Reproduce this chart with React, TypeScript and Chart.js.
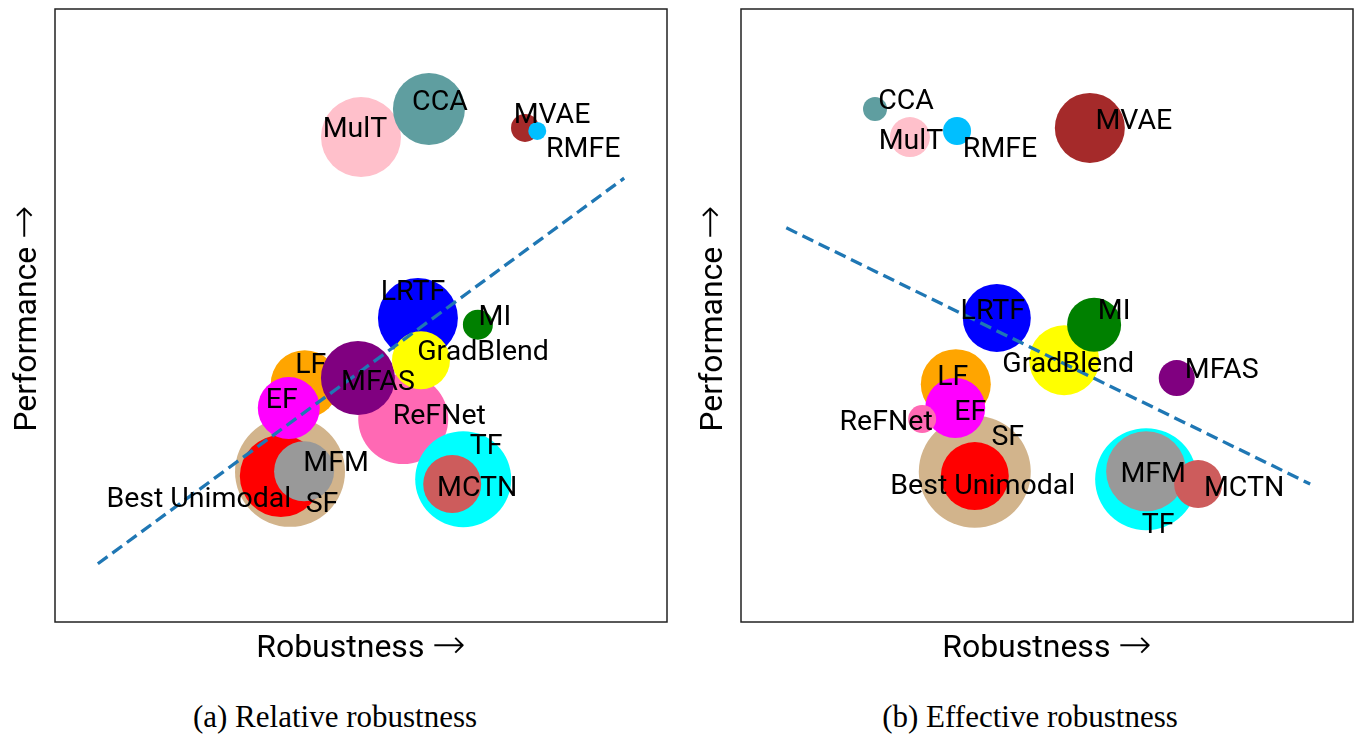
import React, { useEffect, useRef } from "react";
import { Chart, registerables } from "chart.js";

Chart.register(...registerables);

// ---- data (drawing order: later items are drawn on top) ----
const methods = [
  "SF", "Best Unimodal", "LF", "EF", "ReFNet", "MFAS", "LRTF", "GradBlend",
  "MI", "TF", "MFM", "MCTN", "MulT", "CCA", "MVAE", "RMFE",
];
const colors = [
  "#D2B48C", "#FF0000", "#FFA500", "#FF00FF", "#FF69B4", "#800080", "#0000FF", "#FFFF00",
  "#008000", "#00FFFF", "#999999", "#CD5C5C", "#FFC0CB", "#5F9EA0", "#A52A2A", "#00BFFF",
];
const performance = [24.5, 23.8, 38.8, 34.9, 33.1, 39.8, 49.6, 42.7, 48.5, 23.3, 24.6, 22.5, 79.1, 83.7, 80.6, 80.1];

const relativeRobustness = [38.4, 36.9, 40.8, 38.2, 56.9, 49.5, 59.3, 59.8, 69.1, 66.7, 40.7, 64.9, 50.0, 61.1, 76.8, 78.8];
const relativeSize = [55, 41, 34, 31, 45, 37, 40, 29, 15, 48, 30, 29, 40, 36, 14, 9];

const effectiveRobustness = [38.2, 38.2, 35.1, 35.0, 29.6, 71.2, 41.8, 52.8, 57.7, 66.2, 66.2, 74.7, 27.6, 21.9, 57.0, 35.3];
const effectiveSize = [56, 34, 35, 30, 14, 18, 34, 35, 27, 51, 40, 24, 20, 12, 35, 14];

const relativeTrendX = [7.0, 93.0];
const relativeTrendY = [9.5, 72.4];
const effectiveTrendX = [7.4, 93.0];
const effectiveTrendY = [64.3, 22.5];

// label placement relative to each bubble (px)
const relativeLabelOffsets = [
  [32, 40], [-82, 31], [6, -11], [-7, 0], [36, 5], [20, 12], [-5, -18], [62, 0],
  [17, 0], [23, -25], [32, 0], [25, 12], [-6, 0], [11, 1], [27, -5], [46, 26],
];
const effectiveLabelOffsets = [
  [33, -27], [8, 18], [-3, 1], [15, 12], [-36, 11], [45, 0], [-4, 1], [4, 12],
  [20, -6], [12, 54], [7, 11], [46, 12], [1, 12], [31, 0], [44, 1], [43, 26],
];

const xTitle = "Robustness →";
const yTitle = "Performance →";
const captions = ["(a) Relative robustness", "(b) Effective robustness"];

const LABEL_FONT = "28.5px Roboto";
const TITLE_FONT = "32px Roboto";
const ARROW_FONT = "200 40px 'DejaVu Sans'";
const CANVAS_H = 666;

const framePlugin = {
  id: "frame",
  beforeDatasetsDraw(chart: any) {
    const { ctx, chartArea } = chart;
    ctx.save();
    ctx.strokeStyle = "#222";
    ctx.lineWidth = 1.5;
    ctx.strokeRect(chartArea.left, chartArea.top, chartArea.right - chartArea.left, chartArea.bottom - chartArea.top);
    ctx.restore();
  },
};

// draws "word →" with the arrow in a font with a long, thin arrow glyph
function drawTitle(ctx: CanvasRenderingContext2D, text: string, cx: number, baseline: number) {
  const word = text.slice(0, -1);
  const arrow = text.slice(-1);
  ctx.font = TITLE_FONT;
  const w1 = ctx.measureText(word).width;
  ctx.font = ARROW_FONT;
  const w2 = ctx.measureText(arrow).width;
  const x0 = cx - (w1 + w2) / 2;
  ctx.textAlign = "left";
  ctx.textBaseline = "alphabetic";
  ctx.font = TITLE_FONT;
  ctx.fillText(word, x0, baseline);
  ctx.font = ARROW_FONT;
  ctx.fillText(arrow, x0 + w1, baseline + 1);
}

const axisTitlePlugin = {
  id: "axisTitles",
  afterDraw(chart: any) {
    const { ctx, chartArea } = chart;
    ctx.save();
    ctx.fillStyle = "#000";
    drawTitle(ctx, xTitle, (chartArea.left + chartArea.right) / 2, chartArea.bottom + 35);
    ctx.translate(chartArea.left - 19, (chartArea.top + chartArea.bottom) / 2 + 3);
    ctx.rotate(-Math.PI / 2);
    drawTitle(ctx, yTitle, 0, 0);
    ctx.restore();
  },
};

function makeLabelPlugin(offsets: number[][]) {
  return {
    id: "bubbleLabels",
    afterDatasetsDraw(chart: any) {
      const meta = chart.getDatasetMeta(1);
      const ctx = chart.ctx;
      ctx.save();
      ctx.font = LABEL_FONT;
      ctx.fillStyle = "#000";
      ctx.textAlign = "center";
      ctx.textBaseline = "alphabetic";
      meta.data.forEach((el: any, i: number) => {
        const [dx, dy] = offsets[i];
        ctx.fillText(methods[i], el.x + dx, el.y + dy);
      });
      ctx.restore();
    },
  };
}

type PanelProps = {
  robustness: number[];
  sizes: number[];
  trendX: number[];
  trendY: number[];
  offsets: number[][];
  width: number;
  left: number;
  padRight: number;
};

function Panel({ robustness, sizes, trendX, trendY, offsets, width, left, padRight }: PanelProps) {
  const ref = useRef<HTMLCanvasElement | null>(null);
  useEffect(() => {
    if (!ref.current) return;
    Chart.defaults.font.family = "Roboto";
    const hiddenAxis = {
      type: "linear",
      min: 0,
      max: 100,
      grid: { display: false, drawTicks: false },
      border: { display: false },
      ticks: { display: false },
      title: { display: false },
    };
    const chart = new Chart(ref.current, {
      type: "bubble",
      data: {
        datasets: [
          {
            type: "line",
            data: trendX.map((x, i) => ({ x, y: trendY[i] })),
            borderColor: "#1f77b4",
            borderWidth: 3.3,
            borderDash: [12, 6],
            pointRadius: 0,
            fill: false,
            order: 0,
          } as any,
          {
            type: "bubble",
            data: methods.map((_, i) => ({ x: robustness[i], y: performance[i], r: sizes[i] })),
            backgroundColor: colors,
            borderWidth: 0,
            hoverRadius: 0,
            order: 1,
          } as any,
        ],
      },
      options: {
        responsive: false,
        animation: false,
        devicePixelRatio: 1,
        events: [],
        layout: { autoPadding: false, padding: { left: 55, top: 9, right: padRight, bottom: CANVAS_H - 622 } },
        plugins: { legend: { display: false }, tooltip: { enabled: false } },
        scales: { x: { ...hiddenAxis }, y: { ...hiddenAxis } },
      } as any,
      plugins: [framePlugin, makeLabelPlugin(offsets), axisTitlePlugin],
    });
    return () => chart.destroy();
  }, []);
  return (
    <canvas
      ref={ref}
      width={width}
      height={CANVAS_H}
      style={{ position: "absolute", left, top: 0, width, height: CANVAS_H }}
    />
  );
}

export default function App() {
  return (
    <div style={{ position: "absolute", left: 0, top: 0, width: 1360, height: 735, background: "#fff", overflow: "hidden" }}>
      <Panel
        robustness={relativeRobustness}
        sizes={relativeSize}
        trendX={relativeTrendX}
        trendY={relativeTrendY}
        offsets={relativeLabelOffsets}
        width={680}
        left={0}
        padRight={13}
      />
      <Panel
        robustness={effectiveRobustness}
        sizes={effectiveSize}
        trendX={effectiveTrendX}
        trendY={effectiveTrendY}
        offsets={effectiveLabelOffsets}
        width={674}
        left={686}
        padRight={7}
      />
      {captions.map((c, i) => (
        <div
          key={c}
          style={{
            position: "absolute",
            left: (i === 0 ? 335 : 1030) - 200,
            top: 701,
            width: 400,
            textAlign: "center",
            fontFamily: "'Liberation Serif', 'Times New Roman', serif",
            fontSize: 31,
            lineHeight: "31px",
            color: "#000",
            whiteSpace: "nowrap",
          }}
        >
          {c}
        </div>
      ))}
    </div>
  );
}
